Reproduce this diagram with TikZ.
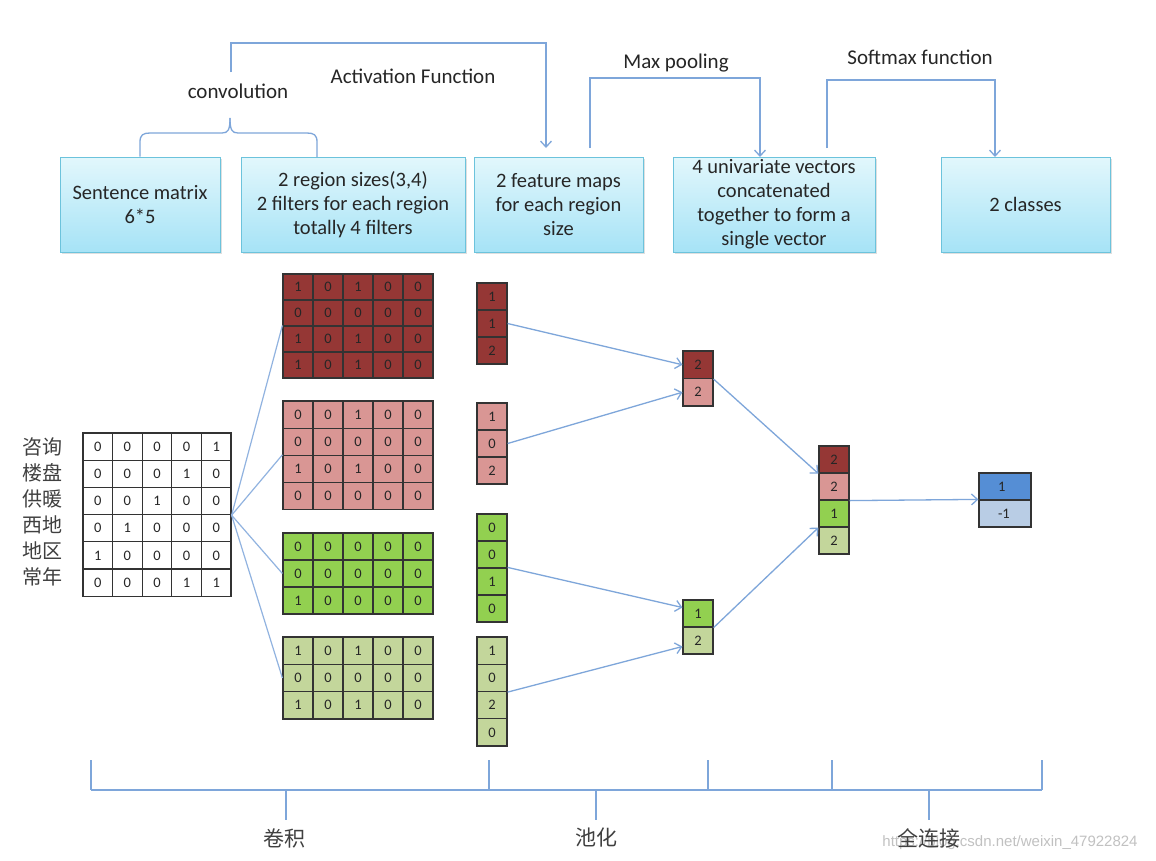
\documentclass[tikz,border=0pt]{standalone}
\usepackage{fontspec}
\setmainfont{Carlito}
\newfontfamily\cjk{Noto Sans CJK SC}
\newfontfamily\wmfont{Liberation Sans}
\usetikzlibrary{arrows.meta,shadows,calc}
\definecolor{cDR}{HTML}{953735}
\definecolor{cPK}{HTML}{D99694}
\definecolor{cGR}{HTML}{92D050}
\definecolor{cLG}{HTML}{C3D69B}
\definecolor{cBL}{HTML}{558ED5}
\definecolor{cLB}{HTML}{B9CDE5}
\definecolor{cLine}{HTML}{7EA6DA}
\definecolor{cBoxTop}{HTML}{E2F7FC}
\definecolor{cBoxBot}{HTML}{A6E3F6}
\definecolor{cBoxBd}{HTML}{6CC3DC}
\definecolor{cTxt}{HTML}{262626}
\newcommand\drawgrid[7]{%
  \foreach \row [count=\r] in {#7} {%
    \foreach \v [count=\c] in \row {%
      \node[cell, fill=#6, minimum width=#4, minimum height=#5] (#1-\r-\c)
        at ({#2+(\c-0.5)*#4},{#3+(\r-0.5)*#5}) {\v};
    }%
  }%
}
\begin{document}
\begin{tikzpicture}[x=1pt,y=-1pt,
  cell/.style={draw=black!80, line width=1.2pt, inner sep=0pt, text=cTxt,
    font=\fontsize{14.5}{15}\selectfont},
  topbox/.style={draw=cBoxBd, line width=1pt, top color=cBoxTop, bottom color=cBoxBot,
    minimum height=95, inner sep=2pt, align=center, text=cTxt,
    font=\fontsize{20.5}{24}\selectfont,
    drop shadow={opacity=0.25, shadow xshift=2pt, shadow yshift=-2pt}},
  lab/.style={text=cTxt, font=\fontsize{21}{24}\selectfont, inner sep=0pt},
  zh/.style={text=black!75, font=\cjk\fontsize{20}{22}\selectfont, inner sep=0pt},
  flow/.style={draw=cLine, line width=1.3pt, -{Straight Barb[length=6pt,width=11pt]}},
  plain/.style={draw=cLine, line width=1.3pt},
  fan/.style={draw=cLine!85, line width=1.2pt},
  bar/.style={draw=cLine, line width=1.4pt}
]
\useasboundingbox (0,0) rectangle (1156,860);
\fill[white] (0,0) rectangle (1156,860);

% ---------- top boxes ----------
\node[topbox, minimum width=160] (b1) at (140,204.5) {Sentence matrix\\6*5};
\node[topbox, minimum width=224] (b2) at (353,204.5) {2 region sizes(3,4)\\2 filters for each region\\totally 4 filters};
\node[topbox, minimum width=169] (b3) at (558.5,204.5) {2 feature maps\\for each region\\size};
\node[topbox, minimum width=202] (b4) at (774,204.5) {4 univariate vectors\\concatenated\\together to form a\\single vector};
\node[topbox, minimum width=169] (b5) at (1025.5,204.5) {2 classes};

% ---------- top labels ----------
\node[lab] (tconv) at (238,91) {convolution};
\node[lab] (tact) at (413,76) {Activation Function};
\node[lab] (tmax) at (676,63) {Max pooling};
\node[lab] (tsoft) at (920,57) {Softmax function};

% brace for convolution
\draw[plain] (b1.north) -- (140,142) .. controls (140,135) and (143,133) .. (150,133)
  -- (222,133) .. controls (228,133) and (230,130) .. (230,118);
\draw[plain] (317,157) -- (317,142) .. controls (317,135) and (314,133) .. (307,133)
  -- (238,133) .. controls (232,133) and (230,130) .. (230,118);

% activation arrow
\coordinate (a0) at (231,72);
\coordinate (a1) at (546,148);
\draw[flow] (a0) -- (231,43) -| (a1);
% max pooling arrow
\coordinate (m0) at (590,148);
\coordinate (m1) at (760,157);
\draw[flow] (m0) -- (590,78) -| (m1);
% softmax arrow
\coordinate (s0) at (827,148);
\coordinate (s1) at (995,157);
\draw[flow] (s0) -- (827,80) -| (s1);

% ---------- input sentence matrix ----------
\drawgrid{S}{83}{433}{29.6}{27.2}{white}{{0,0,0,0,1},{0,0,0,1,0},{0,0,1,0,0},{0,1,0,0,0},{1,0,0,0,0},{0,0,0,1,1}}
\foreach \w [count=\i] in {咨询,楼盘,供暖,西地,地区,常年}
  \node[zh] (w\i) at (43,{447+26*(\i-1)}) {\w};

% ---------- filters ----------
\drawgrid{F1}{283}{274}{30}{26}{cDR}{{1,0,1,0,0},{0,0,0,0,0},{1,0,1,0,0},{1,0,1,0,0}}
\drawgrid{F2}{283}{401}{30}{27.2}{cPK}{{0,0,1,0,0},{0,0,0,0,0},{1,0,1,0,0},{0,0,0,0,0}}
\drawgrid{F3}{283}{533}{30}{27}{cGR}{{0,0,0,0,0},{0,0,0,0,0},{1,0,0,0,0}}
\drawgrid{F4}{283}{637}{30}{27.3}{cLG}{{1,0,1,0,0},{0,0,0,0,0},{1,0,1,0,0}}

\draw[fan] (S-3-5.south east) -- (F1-3-1.north west);
\draw[fan] (S-3-5.south east) -- (F2-3-1.north west);
\draw[fan] (S-3-5.south east) -- (F3-2-1.west);
\draw[fan] (S-3-5.south east) -- (F4-2-1.west);

% ---------- feature maps ----------
\drawgrid{M1}{477}{283}{30}{27}{cDR}{{1},{1},{2}}
\drawgrid{M2}{477}{403}{30}{27}{cPK}{{1},{0},{2}}
\drawgrid{M3}{477}{514}{30}{27}{cGR}{{0},{0},{1},{0}}
\drawgrid{M4}{477}{637}{30}{27.25}{cLG}{{1},{0},{2},{0}}

% ---------- pooled ----------
\node[cell, fill=cDR, minimum width=30, minimum height=27.5] (P1a) at (698,364.75) {2};
\node[cell, fill=cPK, minimum width=30, minimum height=27.5] (P1b) at (698,392.25) {2};
\node[cell, fill=cGR, minimum width=30, minimum height=27] (P2a) at (698,613.5) {1};
\node[cell, fill=cLG, minimum width=30, minimum height=27] (P2b) at (698,640.5) {2};

% ---------- concatenated ----------
\node[cell, fill=cDR, minimum width=30, minimum height=27] (Ca) at (834,459.5) {2};
\node[cell, fill=cPK, minimum width=30, minimum height=27] (Cb) at (834,486.5) {2};
\node[cell, fill=cGR, minimum width=30, minimum height=27] (Cc) at (834,513.5) {1};
\node[cell, fill=cLG, minimum width=30, minimum height=27] (Cd) at (834,540.5) {2};

% ---------- output ----------
\node[cell, fill=cBL, minimum width=52, minimum height=27, text width=40, align=left, inner xsep=0pt] (Oa) at (1005,486.5) {\hspace*{13pt}1};
\node[cell, fill=cLB, minimum width=52, minimum height=27, text width=40, align=left, inner xsep=0pt] (Ob) at (1005,513.5) {\hspace*{13pt}-1};

% ---------- arrows ----------
\draw[flow] (M1-2-1.east) -- (P1a.west);
\draw[flow] (M2-2-1.east) -- (P1b.west);
\draw[flow] (M3-3-1.north east) -- ($(P2a.west)+(0,-6)$);
\draw[flow] (M4-2-1.south east) -- ($(P2b.west)+(0,6)$);
\draw[flow] (P1a.south east) -- (Ca.south west);
\draw[flow] (P2a.south east) -- (Cc.south west);
\draw[flow] (Cb.south east) -- (Ob.north west);

% ---------- bottom bracket ----------
\draw[bar] (91,790) -- (1042,790);
\foreach \x in {91,489,708,832,1042} \draw[bar] (\x,760) -- (\x,790);
\foreach \x in {286,596,929} \draw[bar] (\x,790) -- (\x,820);
\node[text=black!30, opacity=0.8, font=\wmfont\fontsize{15}{16}\selectfont, inner sep=0pt] (wm) at (1010,843) {https://blog.csdn.net/weixin\_47922824};
\node[zh, font=\cjk\fontsize{21}{22}\selectfont] (l1) at (284,838) {卷积};
\node[zh, font=\cjk\fontsize{21}{22}\selectfont] (l2) at (596,838) {池化};
\node[zh, font=\cjk\fontsize{21}{22}\selectfont] (l3) at (929,838) {全连接};
\end{tikzpicture}
\end{document}
